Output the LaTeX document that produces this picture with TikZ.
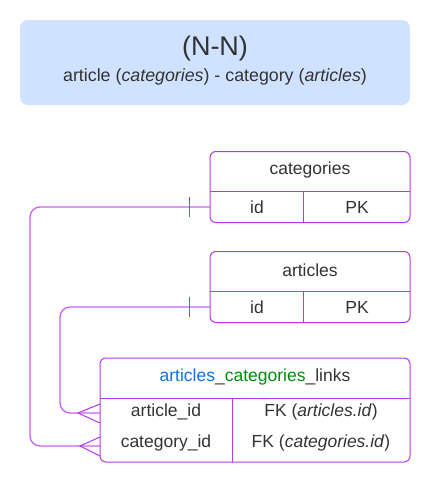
\documentclass[tikz,border=0pt]{standalone}
\usepackage{fontspec}
\setmainfont{Liberation Sans}
\usetikzlibrary{positioning}
\definecolor{hdrblue}{RGB}{207,226,255}
\definecolor{txtgray}{RGB}{51,51,51}
\definecolor{tblpurple}{RGB}{178,58,230}
\definecolor{lnkpurple}{RGB}{196,98,238}
\definecolor{nameblue}{RGB}{16,113,229}
\definecolor{namegreen}{RGB}{0,138,14}
\tikzset{
	tbl/.style={draw=tblpurple, line width=1pt, rounded corners=6pt, inner sep=0pt},
	cell/.style={text=txtgray, font=\fontsize{17.5}{21}\selectfont, inner sep=0pt},
	rel/.style={draw=lnkpurple, line width=1.3pt, rounded corners=10pt},
	foot/.style={draw=tblpurple, line width=1pt}
}
\begin{document}
\begin{tikzpicture}[x=1pt, y=-1pt]
		\useasboundingbox (0,0) rectangle (430,482);
		
		% title box
		\node [fill=hdrblue, rounded corners=8pt, minimum width=390pt, minimum height=85pt] (hdr) at (215,62.5) {};
		\node [text=txtgray, font=\fontsize{27}{32}\selectfont] (hdrtop) at (215,49) {(N-N)};
		\node [text=txtgray, font=\fontsize{17.8}{21}\selectfont] (hdrsub) at (215,77) {article (\textit{categories}) - category (\textit{articles})};
		
		% categories
		\node [tbl, minimum width=200pt, minimum height=71pt] (cat) at (310,187) {};
		\draw [tblpurple, line width=1pt] (210,191.5) -- (410,191.5); \draw [tblpurple, line width=1pt] (303,191.5) -- (303,222.5);
		\node [cell] (cattitle) at (310,170) {categories};
		\node [cell] (catid) at (257,207) {id}; \node [cell] (catpk) at (357,207) {PK};
		
		% articles
		\node [tbl, minimum width=200pt, minimum height=71pt] (art) at (310,287) {};
		\draw [tblpurple, line width=1pt] (210,291.5) -- (410,291.5); \draw [tblpurple, line width=1pt] (303,291.5) -- (303,322.5);
		\node [cell] (arttitle) at (310,270) {articles};
		\node [cell] (artid) at (257,307) {id}; \node [cell] (artpk) at (357,307) {PK};
		
		% articles_categories_links
		\node [tbl, minimum width=310pt, minimum height=104pt] (lnk) at (255,410) {};
		\draw [tblpurple, line width=1pt] (100,398) -- (410,398); \draw [tblpurple, line width=1pt] (232,398) -- (232,462);
		\node [cell] (lnktitle) at (255,377) {\textcolor{nameblue}{articles}\_\textcolor{namegreen}{categories}\_links};
		\node [cell] (lnka) at (166,412) {article\_id}; \node [cell] (lnkafk) at (321,412) {FK (\textit{articles.id})};
		\node [cell] (lnkc) at (166,443) {category\_id}; \node [cell] (lnkcfk) at (321,443) {FK (\textit{categories.id})};
		
		% relations
		\coordinate (catend) at (210,207); \coordinate (artend) at (210,307);
		\coordinate (lnkaend) at (100,413); \coordinate (lnkcend) at (100,446);
		\draw [rel] (catend) -- (30,207) -- (30,446) -- (lnkcend);
		\draw [rel] (artend) -- (60,307) -- (60,413) -- (lnkaend);
		\draw [foot] (189,197) -- (189,217); \draw [foot] (189,297) -- (189,317);
		\draw [foot] (100,404) -- (78,413) -- (100,423);
		\draw [foot] (100,437) -- (80,446) -- (100,456);
		\end{tikzpicture}
\end{document}
